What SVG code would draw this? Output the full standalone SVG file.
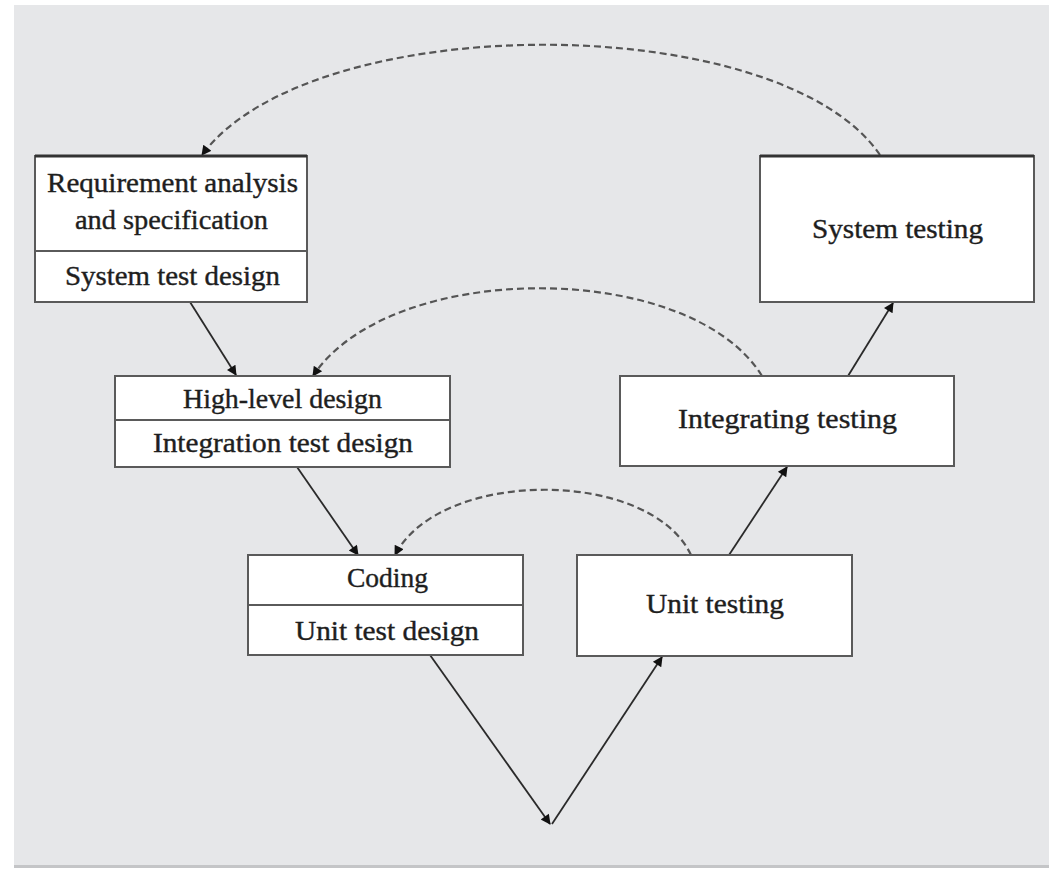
<svg xmlns="http://www.w3.org/2000/svg" width="1049" height="869" viewBox="0 0 1049 869">
<defs>
<style>
.box{fill:#ffffff;stroke:#5a5a5a;stroke-width:2}
.top{stroke:#333333;stroke-width:3}
.div{stroke:#5a5a5a;stroke-width:2}
.t{font-family:"Liberation Serif","Times New Roman",serif;font-size:28px;fill:#1e1e1e;stroke:#1e1e1e;stroke-width:0.4}
.solid{fill:none;stroke:#2a2a2a;stroke-width:1.8}
.dash{fill:none;stroke:#555555;stroke-width:2.2;stroke-dasharray:7 4}
</style>
<marker id="ah" viewBox="0 0 10 10" refX="9" refY="5" markerWidth="12" markerHeight="10" markerUnits="userSpaceOnUse" orient="auto">
<path d="M0,0 L10,5 L0,10 z" fill="#111111"/>
</marker>
</defs>
<rect x="0" y="0" width="1049" height="869" fill="#ffffff"/>
<rect x="14" y="5" width="1035" height="861" fill="#e6e7e9"/>
<rect x="14" y="865" width="1035" height="3" fill="#c4c5c7"/>

<g id="connectors">
<line class="solid" x1="190" y1="302" x2="236" y2="375" marker-end="url(#ah)"/>
<line class="solid" x1="297" y1="467" x2="358" y2="555" marker-end="url(#ah)"/>
<line class="solid" x1="430" y1="655" x2="550" y2="824" marker-end="url(#ah)"/>
<line class="solid" x1="552" y1="824" x2="662" y2="657" marker-end="url(#ah)"/>
<line class="solid" x1="729" y1="555" x2="787" y2="467" marker-end="url(#ah)"/>
<line class="solid" x1="848" y1="376" x2="893" y2="303" marker-end="url(#ah)"/>
<path class="dash" d="M880,155 C780,8 310,8 202,155" marker-end="url(#ah)"/>
<path class="dash" d="M762,376 C690,259 390,259 313,376" marker-end="url(#ah)"/>
<path class="dash" d="M691,555 C650,468 440,468 395,555" marker-end="url(#ah)"/>
</g>

<g id="node-requirement">
<rect class="box" x="35" y="156" width="272" height="146"/>
<line class="top" x1="35" y1="156" x2="307" y2="156"/>
<line class="div" x1="35" y1="251" x2="307" y2="251"/>
<text class="t" x="47" y="192" textLength="251" lengthAdjust="spacingAndGlyphs">Requirement analysis</text>
<text class="t" x="75" y="229" textLength="193" lengthAdjust="spacingAndGlyphs">and specification</text>
<text class="t" x="65" y="285" textLength="215" lengthAdjust="spacingAndGlyphs">System test design</text>
</g>

<g id="node-highlevel">
<rect class="box" x="115" y="376" width="335" height="91"/>
<line class="div" x1="115" y1="420" x2="450" y2="420"/>
<text class="t" x="183" y="408" textLength="199" lengthAdjust="spacingAndGlyphs">High-level design</text>
<text class="t" x="153" y="452" textLength="260" lengthAdjust="spacingAndGlyphs">Integration test design</text>
</g>

<g id="node-coding">
<rect class="box" x="248" y="555" width="275" height="100"/>
<line class="div" x1="248" y1="605" x2="523" y2="605"/>
<text class="t" x="347" y="587" textLength="81" lengthAdjust="spacingAndGlyphs">Coding</text>
<text class="t" x="295" y="640" textLength="184" lengthAdjust="spacingAndGlyphs">Unit test design</text>
</g>

<g id="node-unittesting">
<rect class="box" x="577" y="555" width="275" height="101"/>
<text class="t" x="646" y="613" textLength="138" lengthAdjust="spacingAndGlyphs">Unit testing</text>
</g>

<g id="node-integrating">
<rect class="box" x="620" y="376" width="334" height="90"/>
<text class="t" x="678" y="428" textLength="219" lengthAdjust="spacingAndGlyphs">Integrating testing</text>
</g>

<g id="node-system">
<rect class="box" x="760" y="156" width="274" height="146"/>
<line class="top" x1="760" y1="156" x2="1034" y2="156"/>
<text class="t" x="812" y="238" textLength="171" lengthAdjust="spacingAndGlyphs">System testing</text>
</g>
</svg>
